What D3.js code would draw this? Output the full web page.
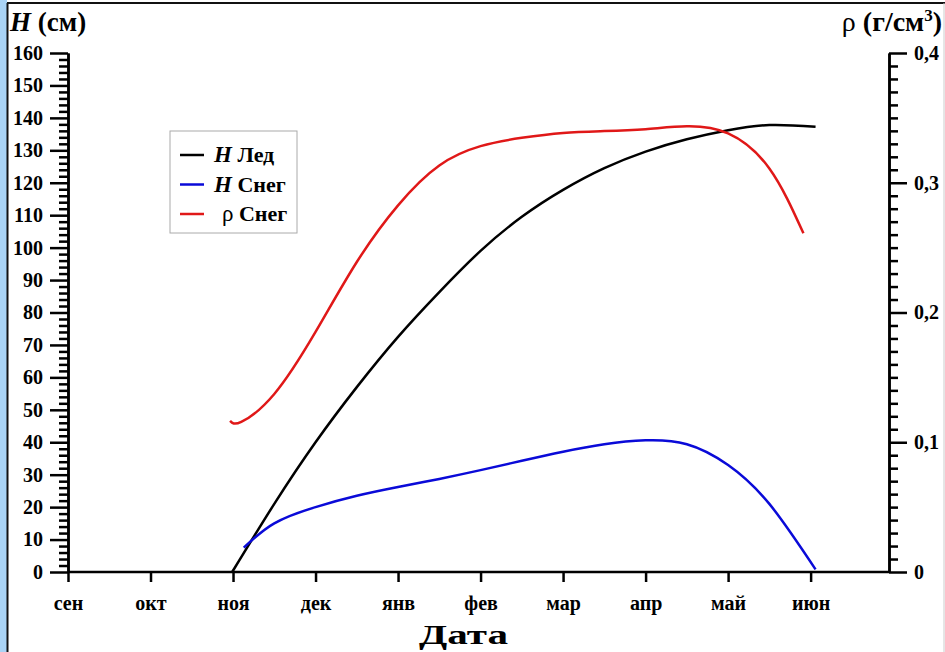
<!DOCTYPE html>
<html>
<head>
<meta charset="utf-8">
<script src="https://cdn.jsdelivr.net/npm/d3@7"></script>
<style>
  html, body { margin: 0; padding: 0; background: #fff; }
  svg { display: block; }
  .ax text { font-family: "Liberation Serif", "Times New Roman", serif; font-weight: bold; font-size: 20px; fill: #000; }
  .ax path, .ax line { stroke: #000; stroke-width: 2.5; }
  .lbl { font-family: "Liberation Serif", "Times New Roman", serif; font-weight: bold; fill: #000; }
</style>
</head>
<body>
<svg width="945" height="652"></svg>
<script>
// месяцы по оси X (сен = 0)
var months = ["сен", "окт", "ноя", "дек", "янв", "фев", "мар", "апр", "май", "июн"];

// H Лед, см
var iceT = [1.99, 2.5, 3, 3.5, 4, 4.5, 5, 5.5, 6, 6.5, 7, 7.5, 8, 8.5, 9.06];
var iceH = [0, 21, 40, 57, 72.5, 86.3, 99, 109.5, 117.8, 124.5, 129.6, 133.4, 136.2, 137.8, 137.3];

// H Снег, см
var snowT = [2.13, 2.5, 3, 3.5, 4, 4.5, 5, 5.5, 6, 6.5, 7, 7.5, 8, 8.5, 9.06];
var snowH = [7.5, 15, 20, 23.5, 26.2, 28.7, 31.4, 34.3, 37.1, 39.4, 40.6, 39.4, 33, 21, 0.8];

// ρ Снег, г/см3
var rhoT = [1.964, 2.1, 2.5, 3, 3.5, 4, 4.5, 5, 5.5, 6, 6.5, 7, 7.5, 8, 8.5, 8.913];
var rho = [0.1164, 0.1157, 0.1372, 0.185, 0.2389, 0.2826, 0.3133, 0.3282, 0.3346, 0.3384, 0.3398, 0.3413, 0.3435, 0.338, 0.311, 0.261];

var hTicks = d3.range(0, 161, 10);
var rhoTicks = [0, 0.1, 0.2, 0.3, 0.4];

var cfg = {
    left: 68, right: 889, top: 53, bottom: 572
};

var svg = d3.select("svg");

// рамка
svg.append("rect").attr("x", 0).attr("y", 0).attr("width", 7).attr("height", 652).attr("fill", "#a9d3f5");
svg.append("line").attr("x1", 7.5).attr("y1", 3).attr("x2", 7.5).attr("y2", 652).attr("stroke", "#111").attr("stroke-width", 2);
svg.append("line").attr("x1", 7).attr("y1", 3).attr("x2", 945).attr("y2", 3).attr("stroke", "#111").attr("stroke-width", 2);
svg.append("line").attr("x1", 944).attr("y1", 3).attr("x2", 944).attr("y2", 652).attr("stroke", "#ccc").attr("stroke-width", 1);

var x = d3.scaleLinear().domain([0, 9.95]).range([cfg.left, cfg.right]);
var yL = d3.scaleLinear().domain([0, 160]).range([cfg.bottom, cfg.top]);
var yR = d3.scaleLinear().domain([0, 0.4]).range([cfg.bottom, cfg.top]);

// левая ось
svg.append("g").attr("class", "ax").attr("transform", "translate(" + cfg.left + ",0)")
    .call(d3.axisLeft(yL).tickValues(d3.range(0, 161, 2).filter(function (d) { return d % 10; }))
        .tickSize(9).tickSizeOuter(0).tickFormat(""));
svg.append("g").attr("class", "ax").attr("transform", "translate(" + cfg.left + ",0)")
    .call(d3.axisLeft(yL).tickValues(hTicks).tickSize(18).tickSizeOuter(0).tickPadding(7));

// правая ось
svg.append("g").attr("class", "ax").attr("transform", "translate(" + cfg.right + ",0)")
    .call(d3.axisRight(yR).tickValues(d3.range(0, 41).map(function (d) { return d / 100; }).filter(function (d, i) { return i % 10; }))
        .tickSize(9).tickSizeOuter(0).tickFormat(""));
svg.append("g").attr("class", "ax").attr("transform", "translate(" + cfg.right + ",0)")
    .call(d3.axisRight(yR).tickValues(rhoTicks).tickSize(18).tickSizeOuter(0).tickPadding(7)
        .tickFormat(function (d) { return d === 0 ? "0" : String(d).replace(".", ","); }));

// ось X
var xAxis = svg.append("g").attr("class", "ax").attr("transform", "translate(0," + cfg.bottom + ")")
    .call(d3.axisBottom(x).tickValues(d3.range(months.length)).tickSize(10).tickSizeOuter(0).tickPadding(14)
        .tickFormat(function (d) { return months[d]; }));
xAxis.select(".domain").attr("d", "M" + cfg.left + ",0H" + cfg.right);

// кривые
var series = [
    {t: iceT, v: iceH, y: yL, color: "#000000"},
    {t: snowT, v: snowH, y: yL, color: "#0a0ad8"},
    {t: rhoT, v: rho, y: yR, color: "#e01818"}
];
series.forEach(function (s) {
    var line = d3.line()
        .x(function (d, i) { return x(s.t[i]); })
        .y(function (d) { return s.y(d); })
        .curve(d3.curveNatural);
    svg.append("path")
        .attr("d", line(s.v))
        .attr("fill", "none")
        .attr("stroke", s.color)
        .attr("stroke-width", 2.5);
});

// подписи осей
var tl = svg.append("text").attr("class", "lbl").attr("x", 10).attr("y", 31).attr("font-size", 27);
tl.append("tspan").attr("font-style", "italic").text("H");
tl.append("tspan").text(" (см)");

var tr = svg.append("text").attr("class", "lbl").attr("x", 942).attr("y", 31).attr("font-size", 28).attr("text-anchor", "end");
tr.append("tspan").attr("font-weight", "normal").text("ρ");
tr.append("tspan").text(" (г/см");
tr.append("tspan").attr("font-size", 17).attr("dy", -10).text("3");
tr.append("tspan").attr("dy", 10).text(")");

svg.append("text").attr("class", "lbl").attr("x", 419).attr("y", 644).attr("font-size", 27)
    .attr("textLength", 89).attr("lengthAdjust", "spacingAndGlyphs").text("Дата");

// легенда
var legendItems = [
    {name: "Лед", sym: "H", color: "#000000"},
    {name: "Снег", sym: "H", color: "#0a0ad8"},
    {name: "Снег", sym: "ρ", color: "#e01818"}
];
var lg = svg.append("g").attr("transform", "translate(170,131)");
lg.append("rect").attr("width", 127).attr("height", 102).attr("fill", "#fff").attr("stroke", "#aaa").attr("stroke-width", 1);
legendItems.forEach(function (d, i) {
    var cy = 24 + i * 29.5;
    lg.append("line").attr("x1", 10).attr("x2", 34).attr("y1", cy).attr("y2", cy)
        .attr("stroke", d.color).attr("stroke-width", 2.5);
    var t = lg.append("text").attr("class", "lbl").attr("x", d.sym === "ρ" ? 52 : 44).attr("y", cy + 7).attr("font-size", 22);
    if (d.sym === "H") {
        t.append("tspan").attr("font-style", "italic").attr("font-size", 23).text("H");
    } else {
        t.append("tspan").attr("font-weight", "normal").attr("font-size", 23).text("ρ");
    }
    t.append("tspan").text(" " + d.name);
});
</script>
</body>
</html>
